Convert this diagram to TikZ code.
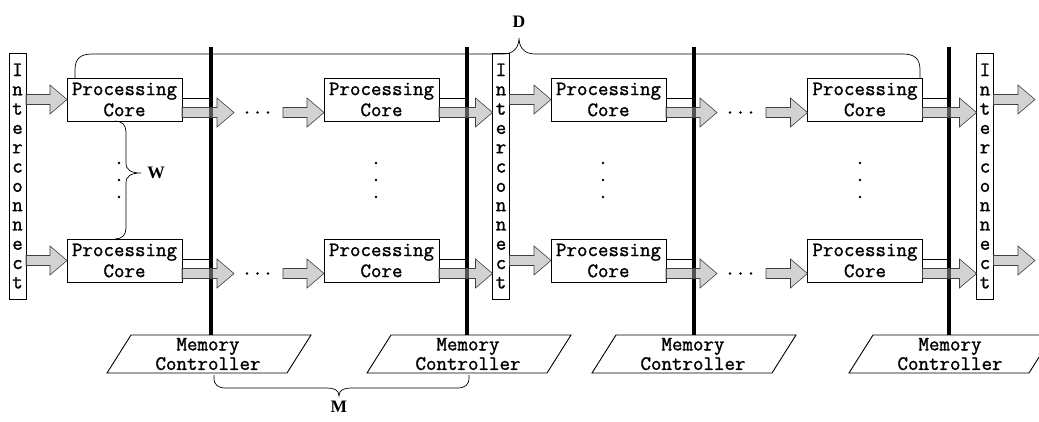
\documentclass[tikz,border=0pt]{standalone}
\usepackage{fontspec}
\newfontfamily\coremono[FakeBold=1.3]{Latin Modern Mono}
\newfontfamily\tagfont{Liberation Serif}
\usetikzlibrary{calc}

\begin{document}
\begin{tikzpicture}[x=1pt,y=-1pt,
  every node/.style={inner sep=0pt, outer sep=0pt},
  core/.style={draw, line width=0.9pt, fill=white, minimum width=115pt, minimum height=43pt,
    align=center, font=\coremono\fontsize{20.4}{21}\selectfont},
  icbox/.style={draw, line width=0.9pt, fill=white, minimum width=17pt, minimum height=246pt,
    align=center, font=\coremono\fontsize{20.4}{19.3}\selectfont},
  mctext/.style={align=center, font=\coremono\fontsize{20.4}{19.5}\selectfont},
  mcedge/.style={draw, line width=0.9pt},
  bus/.style={line width=4pt},
  band/.style={draw, line width=0.8pt, fill=white},
  blockarrow/.style={draw=black!75, line width=0.6pt, fill=black!35, fill opacity=0.5,
    to path={let \p1=(\tikztostart), \p2=(\tikztotarget) in
      (\x1,{\y1+5pt}) -- ({\x2-17pt},{\y1+5pt}) -- ({\x2-17pt},{\y1+14.5pt}) -- (\x2,\y1)
      -- ({\x2-17pt},{\y1-14.5pt}) -- ({\x2-17pt},{\y1-5pt}) -- (\x1,{\y1-5pt}) -- cycle}},
  brace/.style={draw, line width=0.7pt},
  dot/.style={circle, fill, minimum size=2.8pt},
  tag/.style={font=\tagfont\bfseries\fontsize{17.5}{18}\selectfont},
]
\useasboundingbox (0,0) rectangle (1039,421);

% interconnect columns
\foreach \i/\x in {1/17.5, 2/501, 3/985}
  \node[icbox] (ic\i) at (\x,176) {I\\n\\t\\e\\r\\c\\o\\n\\n\\e\\c\\t};

% processing cores, two rows per group
\foreach \rw/\y in {1/99.5, 2/260.5} {
  \node[core] (c1\rw) at (124.5,\y) {Processing\\Core};
  \node[core] (c2\rw) at (381.5,\y) {Processing\\Core};
  \node[core] (c3\rw) at (608.5,\y) {Processing\\Core};
  \node[core] (c4\rw) at (865,\y) {Processing\\Core};
}

% white ports between each core and its memory bus
\foreach \rw/\y in {1/99.5, 2/260.5}
  \foreach \c/\bx in {1/211, 2/467, 3/694, 4/949}
    \draw[band] ($(c\c\rw.east)+(0,-1)$) rectangle (\bx,{\y+8});

% memory controllers with their buses
\foreach \m/\cx/\bx in {1/208/211, 2/468/467, 3/693/694, 4/950/949} {
  \node[mctext] (mc\m) at (\cx,354) {Memory\\Controller};
  \draw[mcedge] ({\cx-77},335) -- ({\cx+103},335) -- ({\cx+79},373) -- ({\cx-101},373) -- cycle;
  \coordinate (mctop\m) at (\bx,335);
  \coordinate (bustop\m) at (\bx,47);
  \draw[bus] (bustop\m) -- (mctop\m);
}

% data flow arrows
\foreach \rw/\y in {1/99.5, 2/260.5} {
  \coordinate (e1\rw) at (234,{\y+13});
  \coordinate (s1\rw) at (283,{\y+13});
  \coordinate (e3\rw) at (717,{\y+13});
  \coordinate (s3\rw) at (766,{\y+13});
  \coordinate (out\rw) at (1035,\y);
  \draw[blockarrow] (ic1.east |- c1\rw.west) to (c1\rw.west);
  \draw[blockarrow] ($(c1\rw.east)+(0,13)$) to (e1\rw);
  \draw[blockarrow] (s1\rw) to ($(c2\rw.west)+(0,13)$);
  \draw[blockarrow] ($(c2\rw.east)+(0,13)$) to ($(ic2.west |- c2\rw.east)+(0,13)$);
  \draw[blockarrow] (ic2.east |- c3\rw.west) to (c3\rw.west);
  \draw[blockarrow] ($(c3\rw.east)+(0,13)$) to (e3\rw);
  \draw[blockarrow] (s3\rw) to ($(c4\rw.west)+(0,13)$);
  \draw[blockarrow] ($(c4\rw.east)+(0,13)$) to ($(ic3.west |- c4\rw.east)+(0,13)$);
  \draw[blockarrow] (ic3.east |- c4\rw.west) to (out\rw);
  % horizontal ellipses
  \foreach \bx/\g in {211/a, 694/b}
    \foreach \k/\dx in {1/36, 2/46.5, 3/57}
      \node[dot] (hd\g\rw\k) at ({\bx+\dx},{\y+13}) {};
}

% vertical ellipses between the rows
\foreach \c/\x in {1/119, 2/376, 3/603, 4/860}
  \foreach \k/\yy in {1/163, 2/180, 3/197}
    \node[dot] (vd\c\k) at (\x,\yy) {};

% brace D over the full pipeline
\draw[brace] (75,78) -- (75,70) .. controls (75,59) and (80,54) .. (92,54) -- (503,54)
  .. controls (514,54) and (519,47) .. (519,38)
  .. controls (519,47) and (524,54) .. (535,54) -- (903,54)
  .. controls (915,54) and (920,59) .. (920,70) -- (920,78);
\node[tag] (lblD) at (519,22) {D};

% brace W over the rows
\draw[brace] (115,121) .. controls (122,121) and (126,125) .. (126,132) -- (126,163)
  .. controls (126,170) and (131,173) .. (141,173)
  .. controls (131,173) and (126,176) .. (126,183) -- (126,228)
  .. controls (126,235) and (122,239) .. (115,239);
\node[tag] (lblW) at (156,173) {W};

% brace M between two memory controllers
\draw[brace] (214,375) -- (214,378) .. controls (214,385) and (218,388) .. (226,388) -- (327,388)
  .. controls (334,388) and (339,390) .. (339,396)
  .. controls (339,390) and (344,388) .. (351,388) -- (457,388)
  .. controls (465,388) and (469,385) .. (469,378) -- (469,375);
\node[tag] (lblM) at (339,407) {M};
\end{tikzpicture}
\end{document}
